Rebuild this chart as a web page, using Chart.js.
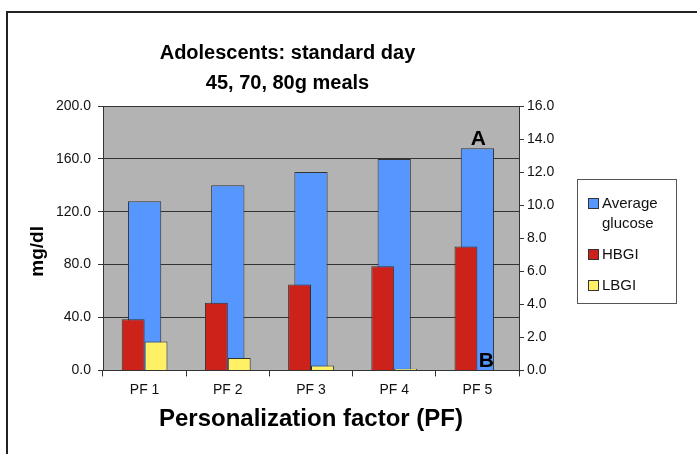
<!DOCTYPE html>
<html>
<head>
<meta charset="utf-8">
<script src="https://cdn.jsdelivr.net/npm/chart.js@4.4.1/dist/chart.umd.min.js"></script>
<style>
    body { margin: 0; background: #fff; font-family: "Liberation Sans", Arial, sans-serif; }
    #wrap { position: relative; width: 697px; height: 454px; overflow: hidden; }
    #frame { position: absolute; left: 6px; top: 11px; width: 720px; height: 480px;
             border-top: 2px solid #222; border-left: 2px solid #222; }
    #chart { position: absolute; left: 0; top: 0; }
    #legend { position: absolute; left: 577px; top: 179px; width: 100px; height: 125px;
              border: 1px solid #555; box-sizing: border-box; padding: 13px 0 0 10px;
              font-size: 15px; color: #111; }
    .item { display: flex; align-items: flex-start; margin-bottom: 11px; line-height: 20px; }
    .box { width: 9px; height: 9px; border: 1px solid #333; margin: 5px 3px 0 0; flex: none; }
</style>
</head>
<body>
<div id="wrap">
    <div id="frame"></div>
    <canvas id="chart" width="697" height="454"></canvas>
    <div id="legend"></div>
</div>
<script>
const categories = ["PF 1", "PF 2", "PF 3", "PF 4", "PF 5"];
const avgGlucose = [128, 140, 150, 160, 168];   // mg/dl, left axis
const hbgi = [3.1, 4.1, 5.2, 6.3, 7.5];          // right axis
const lbgi = [1.75, 0.75, 0.3, 0.1, 0];           // right axis
const legendNames = [["Average", "glucose"], ["HBGI"], ["LBGI"]];

const textColor = "#111";
const lineColor = "#333";
const fontFamily = "'Liberation Sans', Arial, sans-serif";

// letters A / B drawn on the PF 5 bar
const markLetters = {
    id: "markLetters",
    afterDatasetsDraw(chart) {
        const { ctx, scales } = chart;
        const x = scales.x.getPixelForValue(4);
        ctx.save();
        ctx.fillStyle = "#000";
        ctx.font = "bold 21px " + fontFamily;
        ctx.textAlign = "center";
        ctx.textBaseline = "bottom";
        ctx.fillText("A", x + 1, scales.y.getPixelForValue(avgGlucose[4]) + 1);
        ctx.fillText("B", x + 9, scales.y.getPixelForValue(0) + 1);
        ctx.restore();
    }
};

const plotBg = {
    id: "plotBg",
    beforeDraw(chart) {
        const { ctx, chartArea: a } = chart;
        ctx.save();
        ctx.fillStyle = "#B3B3B3";
        ctx.fillRect(a.left, a.top, a.right - a.left, a.bottom - a.top);
        ctx.restore();
    },
};

const chart = new Chart(document.getElementById("chart"), {
    type: "bar",
    data: {
        labels: categories,
        datasets: [
            {
                label: "Average glucose",
                data: avgGlucose,
                yAxisID: "y",
                backgroundColor: "#5596FF",
                borderColor: lineColor,
                borderWidth: 1,
                grouped: false,
                categoryPercentage: 0.4,
                barPercentage: 1,
                order: 2,
            },
            {
                label: "HBGI",
                data: hbgi,
                yAxisID: "y2",
                backgroundColor: "#CC2219",
                borderColor: lineColor,
                borderWidth: 1,
                categoryPercentage: 0.55,
                barPercentage: 1,
                order: 1,
            },
            {
                label: "LBGI",
                data: lbgi,
                yAxisID: "y2",
                backgroundColor: "#FFF066",
                borderColor: lineColor,
                borderWidth: 1,
                categoryPercentage: 0.55,
                barPercentage: 1,
                order: 1,
            },
        ],
    },
    options: {
        responsive: false,
        animation: false,
        devicePixelRatio: 1,
        layout: { padding: { left: 16, right: 138, top: 20, bottom: 12 } },
        plugins: {
            legend: { display: false },
            tooltip: { enabled: false },
            title: {
                display: true,
                text: ["Adolescents: standard day", "45, 70, 80g meals"],
                color: "#000",
                font: { family: fontFamily, size: 20, weight: "bold", lineHeight: 1.5 },
                padding: { top: 18, bottom: 8 },
            },
        },
        scales: {
            x: {
                grid: { offset: true, drawOnChartArea: false, tickLength: 6, color: lineColor },
                border: { color: lineColor },
                ticks: { color: textColor, padding: 5, font: { family: fontFamily, size: 14 } },
                title: {
                    display: true,
                    text: "Personalization factor (PF)",
                    color: "#000",
                    font: { family: fontFamily, size: 24, weight: "bold" },
                    padding: { top: 2, bottom: 8 },
                },
            },
            y: {
                position: "left",
                min: 0,
                max: 200,
                ticks: {
                    stepSize: 40,
                    color: textColor,
                    padding: 7,
                    font: { family: fontFamily, size: 14 },
                    callback: (v) => v.toFixed(1),
                },
                grid: { color: lineColor, tickLength: 5 },
                border: { color: lineColor },
                title: {
                    display: true,
                    text: "mg/dl     ",
                    color: "#000",
                    font: { family: fontFamily, size: 19, weight: "bold" },
                    padding: { top: 10, bottom: 0 },
                },
                afterFit: (scale) => { scale.width = 87; },
            },
            y2: {
                position: "right",
                min: 0,
                max: 16,
                ticks: {
                    stepSize: 2,
                    color: textColor,
                    padding: 3,
                    font: { family: fontFamily, size: 14 },
                    callback: (v) => v.toFixed(1),
                },
                grid: { drawOnChartArea: false, color: lineColor, tickLength: 5 },
                border: { color: lineColor },
                afterFit: (scale) => { scale.width = 40; },
            },
        },
    },
    plugins: [markLetters, plotBg],
});

// legend box on the right, built from the datasets
const legendEl = document.getElementById("legend");
chart.data.datasets.forEach((ds, i) => {
    const item = document.createElement("div");
    item.className = "item";
    const box = document.createElement("span");
    box.className = "box";
    box.style.background = ds.backgroundColor;
    const txt = document.createElement("span");
    txt.innerHTML = legendNames[i].join("<br>");
    item.appendChild(box);
    item.appendChild(txt);
    legendEl.appendChild(item);
});
</script>
</body>
</html>
